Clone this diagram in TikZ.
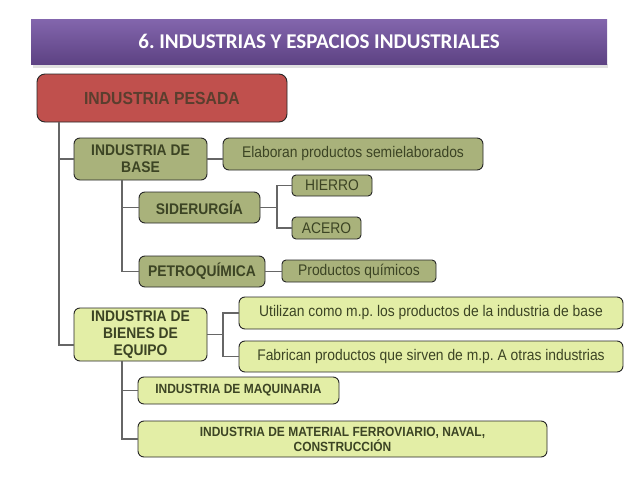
\documentclass[tikz,border=0pt]{standalone}
\usepackage{fontspec}
\setmainfont{Liberation Sans}[FakeStretch=0.9]
\newfontfamily\titlefont{Carlito}
\frenchspacing
\definecolor{barTop}{HTML}{8366AD}
\definecolor{barBot}{HTML}{5D4283}
\definecolor{pesadaRed}{HTML}{C0504D}
\definecolor{pesadaText}{HTML}{5A3E2E}
\definecolor{oliveFill}{HTML}{A9B27B}
\definecolor{limeFill}{HTML}{E3EEA6}
\definecolor{boxText}{HTML}{3C4424}
\definecolor{lineGray}{HTML}{666666}
\begin{document}
\begin{tikzpicture}[x=1pt,y=-1pt,
    box/.style={draw=black!85,line width=0.9pt,rounded corners=6pt,inner sep=0pt,text=boxText,align=center},
    olive/.style={box,fill=oliveFill},
    lime/.style={box,fill=limeFill},
    big/.style={font=\bfseries\fontsize{15.4}{16.7}\selectfont},
    plain/.style={font=\fontsize{15.4}{16.7}\selectfont},
    small/.style={font=\bfseries\fontsize{13.3}{15}\selectfont},
    conn/.style={draw=lineGray,line width=1.3pt}]
    \useasboundingbox (0,0) rectangle (638,479);
    %\draw[red] (0,0) rectangle (638,479);
    \fill[black,opacity=0.12] (33,64) rectangle (608,67.5);
    \node[minimum width=576pt,minimum height=45pt,top color=barTop,bottom color=barBot,text=white,
        font=\titlefont\bfseries\fontsize{21}{25}\selectfont] (title) at (319,41.5) {6. INDUSTRIAS Y ESPACIOS INDUSTRIALES};
    \node[box,fill=pesadaRed,text=pesadaText,rounded corners=8pt,minimum width=250pt,minimum height=48pt,
        font=\bfseries\fontsize{17.5}{19}\selectfont] (pesada) at (162,98) {INDUSTRIA PESADA};
    % industria de base
    \node[olive,big,minimum width=133pt,minimum height=42pt] (base) at (140.5,159) {INDUSTRIA DE\\BASE};
    \node[olive,plain,minimum width=260pt,minimum height=32pt] (elab) at (353,154) {Elaboran productos semielaborados};
    \node[olive,big,minimum width=121pt,minimum height=31pt] (sider) at (199.5,207.5) {SIDERURGÍA};
    \node[olive,plain,rounded corners=4pt,minimum width=80pt,minimum height=21pt] (hierro) at (332,185.5) {HIERRO};
    \node[olive,plain,rounded corners=4pt,minimum width=69pt,minimum height=22pt] (acero) at (326.5,228) {ACERO};
    \node[olive,big,minimum width=126pt,minimum height=31pt] (petro) at (202,271.5) {PETROQUÍMICA};
    \node[olive,plain,rounded corners=4pt,minimum width=154pt,minimum height=22pt] (quim) at (359,271) {Productos químicos};
    % industria de bienes de equipo
    \node[lime,big,minimum width=133pt,minimum height=53pt] (bienes) at (140.5,334.5) {INDUSTRIA DE\\BIENES DE\\EQUIPO};
    \node[lime,plain,minimum width=384pt,minimum height=32pt] (utiliz) at (431,313) {Utilizan como m.p. los productos de la industria de base};
    \node[lime,plain,minimum width=384pt,minimum height=31pt] (fabric) at (431,356.5) {Fabrican productos que sirven de m.p. A otras industrias};
    \node[lime,small,minimum width=201pt,minimum height=27pt] (maq) at (238.5,390.5) {INDUSTRIA DE MAQUINARIA};
    \node[lime,small,minimum width=409pt,minimum height=36pt] (mater) at (342.5,439) {INDUSTRIA DE MATERIAL FERROVIARIO, NAVAL,\\CONSTRUCCIÓN};
    % lineas
    \coordinate (trunk) at (59,0);
    \coordinate (bstem) at (122,0);
    \coordinate (sjoin) at (277,0);
    \coordinate (bjoin) at (223,0);
    \draw[conn] (pesada.south -| trunk) |- (base.west);
    \draw[conn] (pesada.south -| trunk) |- ([yshift=-10.5pt]bienes.west);
    \draw[conn] (base.east) -- (base.east -| elab.west);
    \draw[conn] (base.south -| bstem) |- (sider.west);
    \draw[conn] (base.south -| bstem) |- (petro.west);
    \draw[conn] (sider.east) -- (sider.east -| sjoin);
    \draw[conn] (hierro.west) -| (sjoin |- acero.west) -- (acero.west);
    \draw[conn] (petro.east) -- (petro.east -| quim.west);
    \draw[conn] (bienes.east) -- (bienes.east -| bjoin);
    \draw[conn] (utiliz.west) -| (bjoin |- fabric.west) -- (fabric.west);
    \draw[conn] (bienes.south -| bstem) |- (maq.west);
    \draw[conn] (bienes.south -| bstem) |- (mater.west);
\end{tikzpicture}
\end{document}
